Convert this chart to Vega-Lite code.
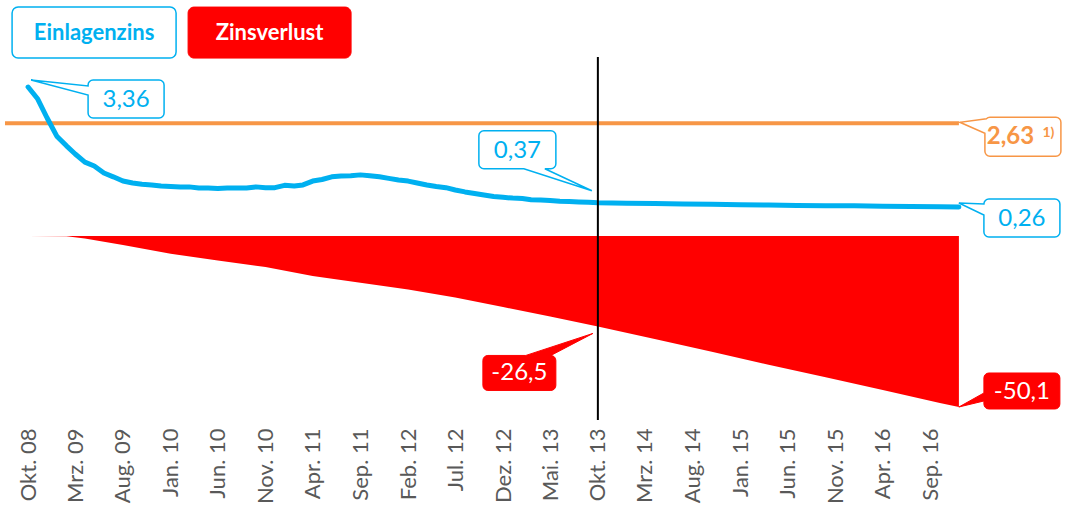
{
"$schema": "https://vega.github.io/schema/vega-lite/v6.json",
"width": 1065,
"height": 420,
"autosize": {"type": "none"},
"padding": {"left": 0, "top": 0, "right": 0, "bottom": 86},
"config": {
 "view": {"stroke": null},
 "font": "Lato",
 "axisX": {"labelAngle": -90, "labelFontSize": 22, "labelColor": "#595959", "labelFont": "Lato", "ticks": false, "domain": false, "grid": false, "labelPadding": 8, "labelOverlap": false, "labelFlush": false}
},
"datasets": {
"zins": [
{"monat":"2008-10-01","wert":3.36},{"monat":"2008-11-01","wert":3.05},{"monat":"2008-12-01","wert":2.56},
{"monat":"2009-01-01","wert":2.09},{"monat":"2009-02-01","wert":1.84},{"monat":"2009-03-01","wert":1.63},
{"monat":"2009-04-01","wert":1.42},{"monat":"2009-05-01","wert":1.32},{"monat":"2009-06-01","wert":1.14},
{"monat":"2009-07-01","wert":1.04},{"monat":"2009-08-01","wert":0.93},{"monat":"2009-09-01","wert":0.88},
{"monat":"2009-10-01","wert":0.85},{"monat":"2009-11-01","wert":0.83},{"monat":"2009-12-01","wert":0.80},
{"monat":"2010-01-01","wert":0.79},{"monat":"2010-02-01","wert":0.78},{"monat":"2010-03-01","wert":0.78},
{"monat":"2010-04-01","wert":0.75},{"monat":"2010-05-01","wert":0.75},{"monat":"2010-06-01","wert":0.74},
{"monat":"2010-07-01","wert":0.75},{"monat":"2010-08-01","wert":0.75},{"monat":"2010-09-01","wert":0.75},
{"monat":"2010-10-01","wert":0.78},{"monat":"2010-11-01","wert":0.76},{"monat":"2010-12-01","wert":0.76},
{"monat":"2011-01-01","wert":0.82},{"monat":"2011-02-01","wert":0.80},{"monat":"2011-03-01","wert":0.83},
{"monat":"2011-04-01","wert":0.93},{"monat":"2011-05-01","wert":0.97},{"monat":"2011-06-01","wert":1.04},
{"monat":"2011-07-01","wert":1.06},{"monat":"2011-08-01","wert":1.07},{"monat":"2011-09-01","wert":1.09},
{"monat":"2011-10-01","wert":1.07},{"monat":"2011-11-01","wert":1.04},{"monat":"2011-12-01","wert":1.00},
{"monat":"2012-01-01","wert":0.96},{"monat":"2012-02-01","wert":0.93},{"monat":"2012-03-01","wert":0.88},
{"monat":"2012-04-01","wert":0.83},{"monat":"2012-05-01","wert":0.79},{"monat":"2012-06-01","wert":0.76},
{"monat":"2012-07-01","wert":0.70},{"monat":"2012-08-01","wert":0.65},{"monat":"2012-09-01","wert":0.61},
{"monat":"2012-10-01","wert":0.57},{"monat":"2012-11-01","wert":0.53},{"monat":"2012-12-01","wert":0.51},
{"monat":"2013-01-01","wert":0.49},{"monat":"2013-02-01","wert":0.48},{"monat":"2013-03-01","wert":0.45},
{"monat":"2013-04-01","wert":0.44},{"monat":"2013-05-01","wert":0.43},{"monat":"2013-06-01","wert":0.41},
{"monat":"2013-07-01","wert":0.40},{"monat":"2013-08-01","wert":0.39},{"monat":"2013-09-01","wert":0.38},
{"monat":"2013-10-01","wert":0.37},{"monat":"2014-01-01","wert":0.36},{"monat":"2014-04-01","wert":0.35},
{"monat":"2014-07-01","wert":0.34},{"monat":"2014-10-01","wert":0.33},{"monat":"2015-01-01","wert":0.32},
{"monat":"2015-04-01","wert":0.31},{"monat":"2015-07-01","wert":0.30},{"monat":"2015-10-01","wert":0.295},
{"monat":"2016-01-01","wert":0.29},{"monat":"2016-04-01","wert":0.28},{"monat":"2016-07-01","wert":0.275},
{"monat":"2016-10-01","wert":0.265},{"monat":"2016-12-01","wert":0.26}
],
"verlust": [
{"monat":"2008-10-01","wert":0},{"monat":"2009-02-01","wert":-0.1},{"monat":"2009-04-01","wert":-0.7},
{"monat":"2009-08-01","wert":-2.6},{"monat":"2010-01-01","wert":-5.2},{"monat":"2010-06-01","wert":-7.2},
{"monat":"2010-11-01","wert":-9.1},{"monat":"2011-04-01","wert":-11.7},{"monat":"2011-09-01","wert":-13.7},
{"monat":"2012-02-01","wert":-15.7},{"monat":"2012-07-01","wert":-18.0},{"monat":"2012-12-01","wert":-20.8},
{"monat":"2013-05-01","wert":-23.6},{"monat":"2013-10-01","wert":-26.5},{"monat":"2014-04-01","wert":-30.2},
{"monat":"2014-10-01","wert":-33.9},{"monat":"2015-04-01","wert":-37.7},{"monat":"2015-10-01","wert":-41.4},
{"monat":"2016-04-01","wert":-45.1},{"monat":"2016-10-01","wert":-48.9},{"monat":"2016-12-01","wert":-50.1}
]
},
"layer": [
{
"data": {"values": [{"von": "2008-07-19", "monat": "2016-12-01", "wert": 2.63, "label": "2,63"}]},
"layer": [
{"mark": {"type": "rule", "color": "#F79646", "strokeWidth": 4},
 "encoding": {
  "x": {"field": "von", "type": "temporal", "scale": {"type": "utc"}, "title": null},
  "x2": {"field": "monat"},
  "y": {"field": "wert", "type": "quantitative", "scale": {"domain": [-5.037, 5.816], "nice": false, "zero": false}, "axis": null}}},
{"encoding": {
  "x": {"field": "monat", "type": "temporal", "scale": {"type": "utc"}, "title": null},
  "y": {"field": "wert", "type": "quantitative", "axis": null}},
 "layer": [
  {"mark": {"type": "point", "shape": "M 31 -6 H 97 A 5 5 0 0 1 102 -1 V 28 A 5 5 0 0 1 97 33 H 31 A 5 5 0 0 1 26 28 V 10 L 1 -1 L 27.5 -4.5 A 5 5 0 0 1 31 -6 Z", "size": 4, "filled": true, "fill": "white", "stroke": "#F79646", "strokeWidth": 1.5, "opacity": 1}},
  {"mark": {"type": "text", "dx": 51.5, "dy": 14, "fontSize": 24, "fontWeight": "bold", "color": "#F79646", "align": "center", "baseline": "middle", "font": "Lato"},
   "encoding": {"text": {"field": "label"}}},
  {"mark": {"type": "text", "dx": 89.5, "dy": 10, "fontSize": 14, "fontWeight": "bold", "color": "#F79646", "align": "center", "baseline": "middle", "font": "Lato", "text": "1)"}}
 ]}
]
},
{
"layer": [
{"data": {"name": "zins"},
 "mark": {"type": "line", "color": "#00B0F0", "strokeWidth": 5, "strokeCap": "round", "strokeJoin": "round"},
 "encoding": {
  "x": {"field": "monat", "type": "temporal", "title": null,
   "scale": {"type": "utc", "nice": false, "domain": [{"year": 2008, "month": 7, "date": 3, "utc": true}, {"year": 2017, "month": 11, "date": 6, "utc": true}]},
   "axis": {
    "values": [
     {"year": 2008, "month": 10, "date": 1, "utc": true}, {"year": 2009, "month": 3, "date": 1, "utc": true},
     {"year": 2009, "month": 8, "date": 1, "utc": true}, {"year": 2010, "month": 1, "date": 1, "utc": true},
     {"year": 2010, "month": 6, "date": 1, "utc": true}, {"year": 2010, "month": 11, "date": 1, "utc": true},
     {"year": 2011, "month": 4, "date": 1, "utc": true}, {"year": 2011, "month": 9, "date": 1, "utc": true},
     {"year": 2012, "month": 2, "date": 1, "utc": true}, {"year": 2012, "month": 7, "date": 1, "utc": true},
     {"year": 2012, "month": 12, "date": 1, "utc": true}, {"year": 2013, "month": 5, "date": 1, "utc": true},
     {"year": 2013, "month": 10, "date": 1, "utc": true}, {"year": 2014, "month": 3, "date": 1, "utc": true},
     {"year": 2014, "month": 8, "date": 1, "utc": true}, {"year": 2015, "month": 1, "date": 1, "utc": true},
     {"year": 2015, "month": 6, "date": 1, "utc": true}, {"year": 2015, "month": 11, "date": 1, "utc": true},
     {"year": 2016, "month": 4, "date": 1, "utc": true}, {"year": 2016, "month": 9, "date": 1, "utc": true}
    ],
    "labelExpr": "['Jan.','Feb.','Mrz.','Apr.','Mai.','Jun.','Jul.','Aug.','Sep.','Okt.','Nov.','Dez.'][utcmonth(datum.value)] + ' ' + utcFormat(datum.value, '%y')",
    "labelAngle": -90, "labelFontSize": 22, "labelColor": "#595959", "labelFont": "Lato",
    "ticks": false, "domain": false, "grid": false, "title": null, "labelPadding": 8,
    "labelOverlap": false, "labelFlush": false}},
  "y": {"field": "wert", "type": "quantitative", "scale": {"domain": [-5.244, 5.609], "nice": false, "zero": false}, "axis": null}}},
{"data": {"values": [{"label": "Einlagenzins"}]},
 "encoding": {
  "x": {"datum": {"year": 2008, "month": 10, "date": 1, "utc": true}, "type": "temporal", "title": null},
  "y": {"datum": 5.0, "type": "quantitative", "axis": null}},
 "layer": [
  {"mark": {"type": "point", "shape": "M -10 -16.5 H 142 A 6 6 0 0 1 148 -10.5 V 28.5 A 6 6 0 0 1 142 34.5 H -10 A 6 6 0 0 1 -16 28.5 V -10.5 A 6 6 0 0 1 -10 -16.5 Z", "size": 4, "filled": true, "fill": "white", "stroke": "#00B0F0", "strokeWidth": 1.5, "opacity": 1}},
  {"mark": {"type": "text", "dx": 66, "dy": 9, "fontSize": 22, "fontWeight": "bold", "color": "#00B0F0", "align": "center", "baseline": "middle", "font": "Lato"},
   "encoding": {"text": {"field": "label"}}}
 ]},
{"data": {"values": [{"label": "Zinsverlust"}]},
 "encoding": {
  "x": {"datum": {"year": 2008, "month": 10, "date": 1, "utc": true}, "type": "temporal", "title": null},
  "y": {"datum": 5.0, "type": "quantitative", "axis": null}},
 "layer": [
  {"mark": {"type": "point", "shape": "M 166 -16.5 H 317 A 6 6 0 0 1 323 -10.5 V 28.5 A 6 6 0 0 1 317 34.5 H 166 A 6 6 0 0 1 160 28.5 V -10.5 A 6 6 0 0 1 166 -16.5 Z", "size": 4, "filled": true, "fill": "#FF0000", "stroke": "#FF0000", "strokeWidth": 1, "opacity": 1}},
  {"mark": {"type": "text", "dx": 241.5, "dy": 9, "fontSize": 22, "fontWeight": "bold", "color": "white", "align": "center", "baseline": "middle", "font": "Lato"},
   "encoding": {"text": {"field": "label"}}}
 ]},
{"data": {"values": [{"monat": "2008-10-01", "wert": 3.36, "label": "3,36"}]},
 "encoding": {
  "x": {"field": "monat", "type": "temporal", "scale": {"type": "utc"}, "title": null},
  "y": {"field": "wert", "type": "quantitative", "axis": null}},
 "layer": [
  {"mark": {"type": "point", "shape": "M 65 -7 H 131 A 5 5 0 0 1 136 -2 V 26 A 5 5 0 0 1 131 31 H 65 A 5 5 0 0 1 60 26 V 8 L 3 -7 L 60 -1 V -2 A 5 5 0 0 1 65 -7 Z", "size": 4, "filled": true, "fill": "white", "stroke": "#00B0F0", "strokeWidth": 1.5, "opacity": 1}},
  {"mark": {"type": "text", "dx": 98, "dy": 13, "fontSize": 24, "color": "#00B0F0", "align": "center", "baseline": "middle", "font": "Lato"},
   "encoding": {"text": {"field": "label"}}}
 ]},
{"data": {"values": [{"monat": "2013-10-01", "wert": 0.37, "label": "0,37"}]},
 "encoding": {
  "x": {"field": "monat", "type": "temporal", "scale": {"type": "utc"}, "title": null},
  "y": {"field": "wert", "type": "quantitative", "axis": null}},
 "layer": [
  {"mark": {"type": "point", "shape": "M -114 -72 H -47 A 5 5 0 0 1 -42 -67 V -39 A 5 5 0 0 1 -47 -34 H -53 L -6 -12 L -74 -34 H -114 A 5 5 0 0 1 -119 -39 V -67 A 5 5 0 0 1 -114 -72 Z", "size": 4, "filled": true, "fill": "white", "stroke": "#00B0F0", "strokeWidth": 1.5, "opacity": 1}},
  {"mark": {"type": "text", "dx": -80.5, "dy": -52, "fontSize": 24, "color": "#00B0F0", "align": "center", "baseline": "middle", "font": "Lato"},
   "encoding": {"text": {"field": "label"}}}
 ]},
{"data": {"values": [{"monat": "2016-12-01", "wert": 0.26, "label": "0,26"}]},
 "encoding": {
  "x": {"field": "monat", "type": "temporal", "scale": {"type": "utc"}, "title": null},
  "y": {"field": "wert", "type": "quantitative", "axis": null}},
 "layer": [
  {"mark": {"type": "point", "shape": "M 30 -8 H 96 A 5 5 0 0 1 101 -3 V 25 A 5 5 0 0 1 96 30 H 30 A 5 5 0 0 1 25 25 V 8 L 0 -4 L 25 -3 A 5 5 0 0 1 30 -8 Z", "size": 4, "filled": true, "fill": "white", "stroke": "#00B0F0", "strokeWidth": 1.5, "opacity": 1}},
  {"mark": {"type": "text", "dx": 63, "dy": 12, "fontSize": 24, "color": "#00B0F0", "align": "center", "baseline": "middle", "font": "Lato"},
   "encoding": {"text": {"field": "label"}}}
 ]}
]
},
{
"layer": [
{"data": {"name": "verlust"},
 "mark": {"type": "area", "color": "#FF0000", "opacity": 1},
 "encoding": {
  "x": {"field": "monat", "type": "temporal", "scale": {"type": "utc"}, "title": null},
  "y": {"field": "wert", "type": "quantitative", "scale": {"domain": [-53.91, 69.15], "nice": false}, "axis": null}}},
{"data": {"values": [{"monat": "2013-10-01", "oben": 52.45, "unten": -53.91}]},
 "mark": {"type": "rule", "color": "black", "strokeWidth": 2},
 "encoding": {
  "x": {"field": "monat", "type": "temporal", "scale": {"type": "utc"}, "title": null},
  "y": {"field": "oben", "type": "quantitative", "axis": null},
  "y2": {"field": "unten"}}},
{"data": {"values": [{"monat": "2013-10-01", "wert": -26.5, "label": "-26,5"}]},
 "encoding": {
  "x": {"field": "monat", "type": "temporal", "scale": {"type": "utc"}, "title": null},
  "y": {"field": "wert", "type": "quantitative", "axis": null}},
 "layer": [
  {"mark": {"type": "point", "shape": "M -110 29 H -72 L -5 7 L -47 29 A 5 5 0 0 1 -42 34 V 59 A 5 5 0 0 1 -47 64 H -110 A 5 5 0 0 1 -115 59 V 34 A 5 5 0 0 1 -110 29 Z", "size": 4, "filled": true, "fill": "#FF0000", "stroke": "#FF0000", "strokeWidth": 1, "opacity": 1}},
  {"mark": {"type": "text", "dx": -78.5, "dy": 47, "fontSize": 24, "color": "white", "align": "center", "baseline": "middle", "font": "Lato"},
   "encoding": {"text": {"field": "label"}}}
 ]},
{"data": {"values": [{"monat": "2016-12-01", "wert": -50.1, "label": "-50,1"}]},
 "encoding": {
  "x": {"field": "monat", "type": "temporal", "scale": {"type": "utc"}, "title": null},
  "y": {"field": "wert", "type": "quantitative", "axis": null}},
 "layer": [
  {"mark": {"type": "point", "shape": "M 30 -34 H 96 A 5 5 0 0 1 101 -29 V -3 A 5 5 0 0 1 96 2 H 30 A 5 5 0 0 1 25 -3 V -6 L 0 0 L 25 -14 V -29 A 5 5 0 0 1 30 -34 Z", "size": 4, "filled": true, "fill": "#FF0000", "stroke": "#FF0000", "strokeWidth": 1, "opacity": 1}},
  {"mark": {"type": "text", "dx": 63, "dy": -15, "fontSize": 24, "color": "white", "align": "center", "baseline": "middle", "font": "Lato"},
   "encoding": {"text": {"field": "label"}}}
 ]}
]
}
],
"resolve": {"scale": {"y": "independent"}}
}
